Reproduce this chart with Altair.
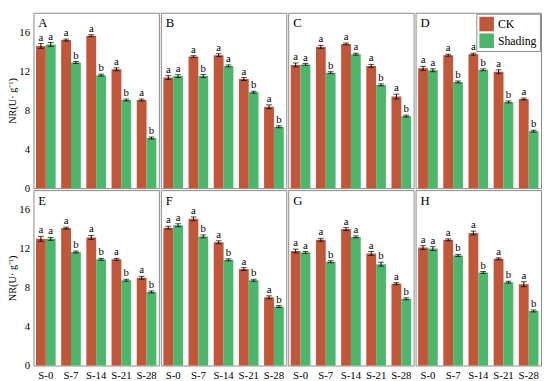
import altair as alt
import pandas as pd

panels = ["A", "B", "C", "D", "E", "F", "G", "H"]
groups = ["S-0", "S-7", "S-14", "S-21", "S-28"]
treatments = ["CK", "Shading"]

ck_vals = {
    "A": [14.6, 15.2, 15.65, 12.2, 9.05],
    "B": [11.35, 13.5, 13.65, 11.2, 8.35],
    "C": [12.65, 14.5, 14.8, 12.55, 9.4],
    "D": [12.3, 13.65, 13.75, 11.95, 9.15],
    "E": [13.0, 14.1, 13.15, 10.9, 9.0],
    "F": [14.15, 15.05, 12.65, 9.9, 7.0],
    "G": [11.75, 12.9, 14.0, 11.5, 8.4],
    "H": [12.1, 12.9, 13.6, 10.95, 8.35],
}
sh_vals = {
    "A": [14.75, 12.9, 11.6, 9.05, 5.15],
    "B": [11.5, 11.5, 12.55, 9.85, 6.3],
    "C": [12.7, 11.85, 13.75, 10.6, 7.4],
    "D": [12.1, 10.9, 12.15, 8.85, 5.85],
    "E": [13.0, 11.65, 10.9, 8.75, 7.55],
    "F": [14.4, 13.25, 10.85, 8.75, 6.05],
    "G": [11.6, 10.65, 13.2, 10.4, 6.85],
    "H": [12.0, 11.3, 9.55, 8.55, 5.6],
}
ck_err = {
    "A": [0.25, 0.1, 0.1, 0.15, 0.1],
    "B": [0.2, 0.1, 0.15, 0.15, 0.2],
    "C": [0.2, 0.15, 0.1, 0.15, 0.25],
    "D": [0.2, 0.1, 0.1, 0.2, 0.1],
    "E": [0.25, 0.1, 0.2, 0.1, 0.15],
    "F": [0.15, 0.2, 0.15, 0.15, 0.15],
    "G": [0.2, 0.15, 0.15, 0.2, 0.1],
    "H": [0.2, 0.1, 0.2, 0.1, 0.25],
}
sh_err = {
    "A": [0.2, 0.1, 0.1, 0.1, 0.1],
    "B": [0.15, 0.15, 0.1, 0.1, 0.1],
    "C": [0.1, 0.1, 0.1, 0.1, 0.1],
    "D": [0.15, 0.1, 0.1, 0.1, 0.1],
    "E": [0.15, 0.1, 0.1, 0.1, 0.1],
    "F": [0.15, 0.15, 0.1, 0.1, 0.1],
    "G": [0.1, 0.1, 0.1, 0.2, 0.1],
    "H": [0.2, 0.1, 0.1, 0.1, 0.1],
}
sh_sig = {
    "A": ["a", "b", "b", "b", "b"],
    "B": ["a", "b", "a", "b", "b"],
    "C": ["a", "b", "a", "b", "b"],
    "D": ["a", "b", "b", "b", "b"],
    "E": ["a", "b", "b", "b", "b"],
    "F": ["a", "b", "b", "b", "b"],
    "G": ["a", "b", "a", "b", "b"],
    "H": ["a", "b", "b", "b", "b"],
}

rows = []
for i, p in enumerate(panels):
    for j, g in enumerate(groups):
        for t, vals, errs, sig in (
            ("CK", ck_vals[p], ck_err[p], ["a"] * 5),
            ("Shading", sh_vals[p], sh_err[p], sh_sig[p]),
        ):
            v = vals[j]
            e = errs[j]
            rows.append(dict(panel=p, prow=i // 4, pcol=i % 4, group=g, treatment=t,
                             value=v, lo=v - e, hi=v + e, sig=sig[j]))
df = pd.DataFrame(rows)

FONT = "Liberation Serif"
colors = ["#C0573A", "#4DB56C"]

xenc = alt.X("group:N", sort=groups,
             scale=alt.Scale(paddingInner=0.22, paddingOuter=0.1),
             axis=alt.Axis(title=None, labelAngle=0, labelFontSize=11, labelFont=FONT,
                           labelColor="black", ticks=False, domain=False, labelPadding=3))
xoff = alt.XOffset("treatment:N", sort=treatments)
yscale = alt.Scale(domain=[0, 18], nice=False)

bars = alt.Chart().mark_bar().encode(
    x=xenc, xOffset=xoff,
    y=alt.Y("value:Q", scale=yscale,
            axis=alt.Axis(title="NR(U· g⁻¹)", values=[0, 4, 8, 12, 16], grid=False,
                          labelFontSize=11, labelFont=FONT, labelColor="black",
                          titleFont=FONT, titleFontSize=10.5, titleFontWeight="normal",
                          titleColor="black", titlePadding=1, domain=False,
                          ticks=False, labelPadding=3)),
    color=alt.Color("treatment:N", scale=alt.Scale(domain=treatments, range=colors),
                    legend=alt.Legend(title=None, orient="none", legendX=452, legendY=1,
                                      symbolType="square",
                                      symbolSize=220, labelFont=FONT, labelFontSize=12,
                                      labelColor="black", strokeColor="#888888",
                                      padding=3, rowPadding=2,
                                      symbolStrokeWidth=0)),
)
err = alt.Chart().mark_rule(color="black", strokeWidth=1).encode(
    x=xenc, xOffset=xoff, y=alt.Y("lo:Q", scale=yscale), y2="hi:Q")
cap_hi = alt.Chart().mark_tick(color="black", size=6, thickness=1).encode(
    x=xenc, xOffset=xoff, y=alt.Y("hi:Q", scale=yscale))
cap_lo = alt.Chart().mark_tick(color="black", size=6, thickness=1).encode(
    x=xenc, xOffset=xoff, y=alt.Y("lo:Q", scale=yscale))
sig = alt.Chart().mark_text(font=FONT, fontSize=11, color="black", baseline="bottom", dy=-1).encode(
    x=xenc, xOffset=xoff, y=alt.Y("hi:Q", scale=yscale), text="sig:N")
lab = alt.Chart().transform_filter(
    (alt.datum.group == "S-0") & (alt.datum.treatment == "CK")
).mark_text(font=FONT, fontSize=13, color="black", align="left", baseline="top").encode(
    x=alt.value(5), y=alt.value(5), text="panel:N")

layered = alt.layer(bars, err, cap_hi, cap_lo, sig, lab, data=df).properties(width=128, height=179)

hdr = alt.Header(labels=False, labelPadding=0, titlePadding=0)
chart = layered.facet(
    row=alt.Row("prow:O", title=None, header=hdr),
    column=alt.Column("pcol:O", title=None, header=hdr),
    spacing=0,
).properties(padding={"left": 0, "top": 0, "right": 0, "bottom": 0}).configure_view(
    stroke="#888888", strokeWidth=1
).configure_facet(spacing=0).configure_header(
    labelPadding=0, titlePadding=0
).configure_axis(
    labelFont=FONT, titleFont=FONT
).configure_text(font=FONT).configure_legend(labelFont=FONT)

chart.save("out.html", embed_options={"renderer": "svg", "actions": False})
